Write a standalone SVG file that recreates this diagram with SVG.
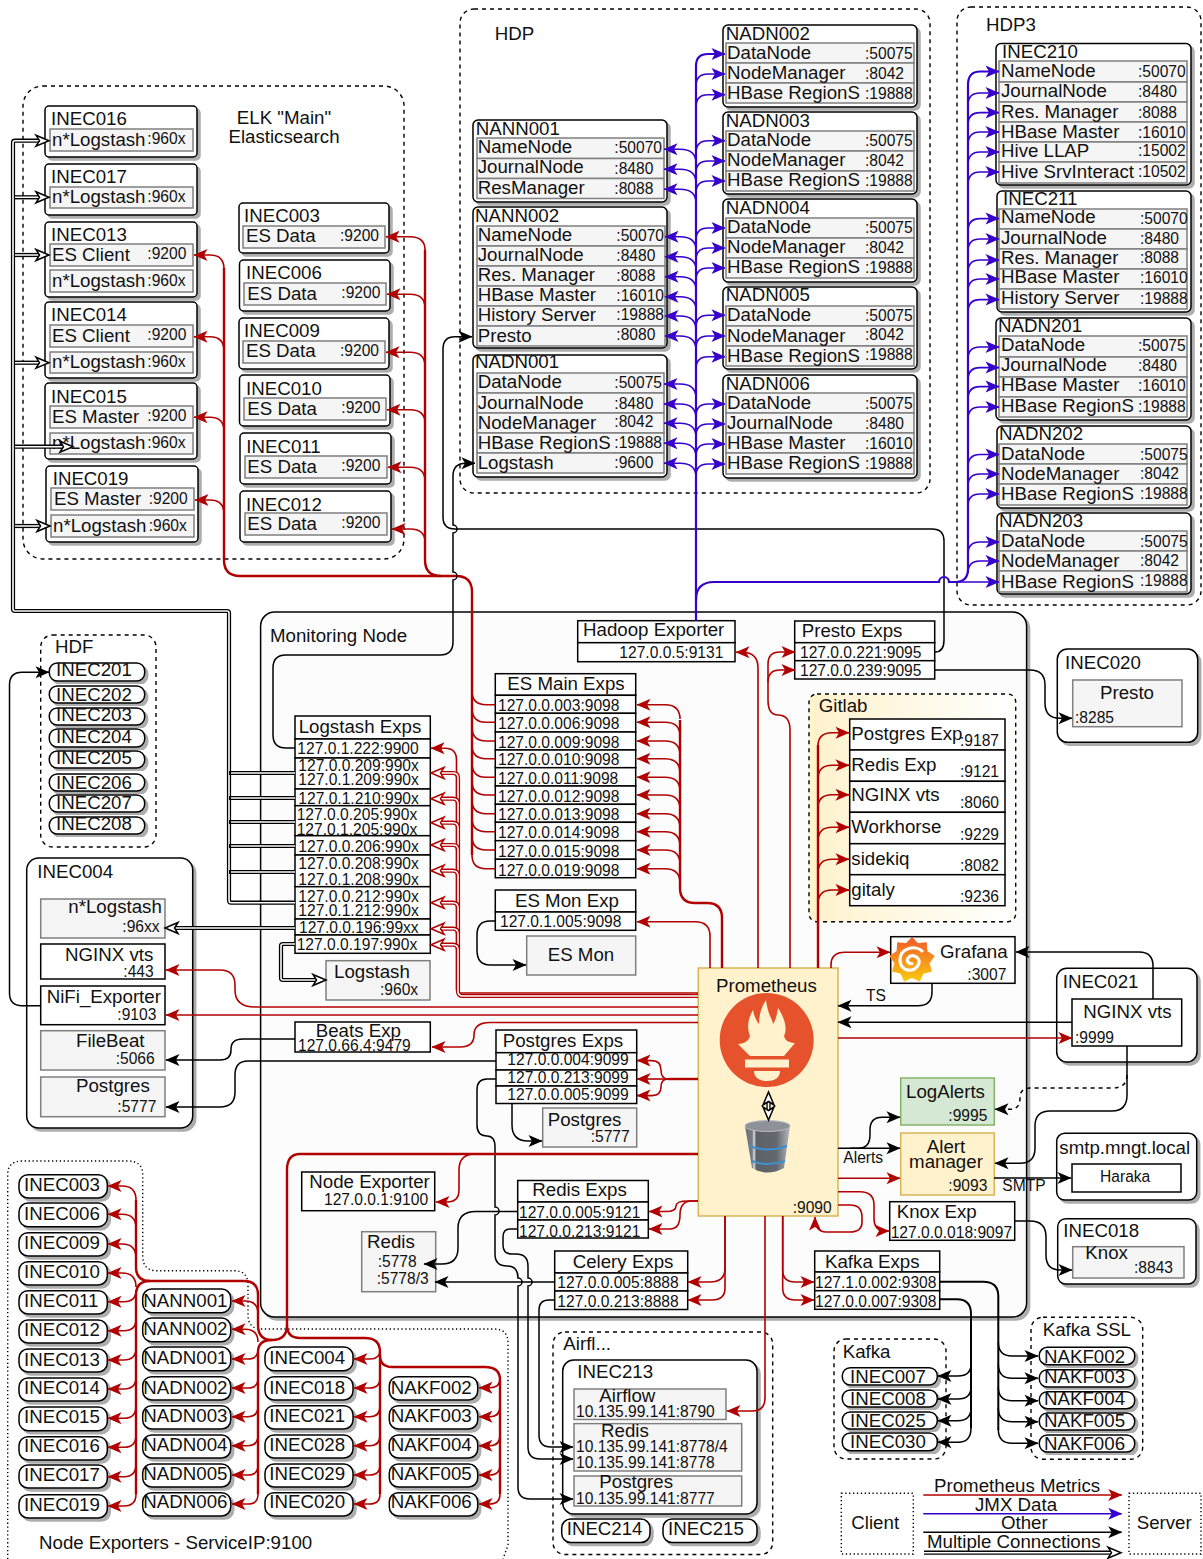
<svg xmlns="http://www.w3.org/2000/svg" width="1203" height="1559" viewBox="0 0 1203 1559">
<style>
text{font-family:"Liberation Sans",Arial,sans-serif;font-size:18.7px;fill:#111}
text.p{font-size:15.6px}
text.m{text-anchor:middle}
.n{fill:#fff;stroke:#000;stroke-width:1.5;filter:url(#s)}
.r{fill:#f5f5f5;stroke:#7f7f7f;stroke-width:1.5}
.w{fill:#fff;stroke:#000;stroke-width:1.5}
.da{fill:none;stroke:#000;stroke-width:1.4;stroke-dasharray:4 4}
.do{fill:none;stroke:#000;stroke-width:1.4;stroke-dasharray:1.3 2.6}
.red,.rx,.rt,.blu,.bt,.blk,.kt,.d1,.d2,.d3,.d4{fill:none}
.red{stroke:#b20000;stroke-width:1.6;marker-end:url(#ar)}
.rx{stroke:#b20000;stroke-width:1.6}
.rt{stroke:#b20000;stroke-width:2.4}
.blu{stroke:#3700cc;stroke-width:1.6;marker-end:url(#ab)}
.bt{stroke:#3700cc;stroke-width:2.2;marker-end:url(#ab)}
.blk{stroke:#000;stroke-width:1.5;marker-end:url(#ak)}
.kt{stroke:#000;stroke-width:2}
.d1{stroke:#000;stroke-width:4.2}
.d2{stroke:#fff;stroke-width:1.6;marker-end:url(#hk)}
.d3{stroke:#b20000;stroke-width:4.2}
.d4{stroke:#fff;stroke-width:1.6;marker-end:url(#hr)}
</style>
<defs>
<filter id="s" x="-10%" y="-10%" width="125%" height="125%"><feDropShadow dx="3" dy="3" stdDeviation="0.7" flood-color="#000" flood-opacity="0.32"/></filter>
<linearGradient id="gl" x1="0" x2="1" y1="0" y2="0"><stop offset="0" stop-color="#fff2cc"/><stop offset="1" stop-color="#fff"/></linearGradient>
<linearGradient id="gg" x1="0" x2="0" y1="0" y2="1"><stop offset="0" stop-color="#f15a29"/><stop offset="1" stop-color="#fbc70f"/></linearGradient>
<linearGradient id="gd" x1="0" x2="1" y1="0" y2="0"><stop offset="0" stop-color="#6c7178"/><stop offset=".16" stop-color="#777c83"/><stop offset=".2" stop-color="#d8dade"/><stop offset=".25" stop-color="#5c6168"/><stop offset=".7" stop-color="#63686f"/><stop offset="1" stop-color="#b5b8bd"/></linearGradient>
<marker id="ar" markerUnits="userSpaceOnUse" markerWidth="14" markerHeight="12" refX="13.5" refY="6" orient="auto" overflow="visible"><path d="M0,0L14,6L0,12L3.5,6Z" fill="#b20000"/></marker>
<marker id="ab" markerUnits="userSpaceOnUse" markerWidth="14" markerHeight="12" refX="13.5" refY="6" orient="auto" overflow="visible"><path d="M0,0L14,6L0,12L3.5,6Z" fill="#3700cc"/></marker>
<marker id="ak" markerUnits="userSpaceOnUse" markerWidth="14" markerHeight="12" refX="13.5" refY="6" orient="auto" overflow="visible"><path d="M0,0L14,6L0,12L3.5,6Z" fill="#000"/></marker>
<marker id="hk" markerUnits="userSpaceOnUse" markerWidth="15" markerHeight="12" refX="13" refY="5.5" orient="auto" overflow="visible"><path d="M0,0L13,5.5L0,11L3.5,5.5Z" fill="#fff" stroke="#000" stroke-width="1.5"/></marker>
<marker id="hr" markerUnits="userSpaceOnUse" markerWidth="15" markerHeight="12" refX="13" refY="5.5" orient="auto" overflow="visible"><path d="M0,0L13,5.5L0,11L3.5,5.5Z" fill="#fff" stroke="#b20000" stroke-width="1.5"/></marker>
</defs>
<g id="groups">
<rect class="da" x="23" y="86" width="381" height="473" rx="20"/>
<text class="m" x="284" y="124">ELK "Main"</text><text class="m" x="284" y="143.3">Elasticsearch</text>
<rect class="da" x="460" y="9" width="470" height="484" rx="14"/>
<text x="494.7" y="40">HDP</text>
<rect class="da" x="957" y="7" width="244" height="598" rx="14"/>
<text x="986" y="31">HDP3</text>
<rect class="n" x="260.6" y="612" width="766" height="705" rx="14" style="fill:#fcfcfc"/>
<text x="270" y="641.7">Monitoring Node</text>
<rect class="da" x="40.7" y="635" width="115.3" height="212" rx="12"/>
<text x="55" y="652.7">HDF</text>
<path class="do" d="M7.7,1559V1175Q7.7,1161 22,1161H128Q142.7,1161 142.7,1175V1256Q142.7,1270.7 157,1270.7H234Q248,1270.7 248,1285V1315Q248,1329 262,1329H494Q508,1329 508,1343V1545L503,1559"/>
<text x="39" y="1549">Node Exporters - ServiceIP:9100</text>
<rect class="da" x="553" y="1332" width="219.7" height="222.5" rx="12"/>
<text x="563.3" y="1350">Airfl...</text>
<rect class="da" x="834" y="1339" width="112" height="120" rx="12"/>
<text x="842.7" y="1357.7">Kafka</text>
<rect class="da" x="1031" y="1317.3" width="111.7" height="142" rx="12"/>
<text x="1042.7" y="1335.7">Kafka SSL</text>
<rect class="da" x="809" y="694" width="206.7" height="227.7" rx="8" style="fill:url(#gl)"/>
<text x="818.7" y="711.7">Gitlab</text>
</g>
<g id="elk-nodes">
<g id="INEC016"><rect class="n" x="45" y="106" width="152" height="51" rx="4"/><text x="51" y="125">INEC016</text><rect class="r" x="50" y="129" width="143" height="22"/><text x="52" y="146">n*Logstash</text><text class="p" x="147.3" y="144.3">:960x</text></g>
<g id="INEC017"><rect class="n" x="45" y="164" width="152" height="51" rx="4"/><text x="51" y="183">INEC017</text><rect class="r" x="50" y="187" width="143" height="21"/><text x="52" y="203">n*Logstash</text><text class="p" x="147.3" y="201.7">:960x</text></g>
<g id="INEC013"><rect class="n" x="45" y="222" width="152" height="75" rx="4"/><text x="51" y="241.3">INEC013</text><rect class="r" x="50" y="244" width="143" height="22"/><text x="52" y="261">ES Client</text><text class="p" x="147.3" y="259.3">:9200</text><rect class="r" x="50" y="270" width="143" height="22"/><text x="52" y="287.3">n*Logstash</text><text class="p" x="147.3" y="286">:960x</text></g>
<g id="INEC014"><rect class="n" x="45" y="302" width="152" height="76" rx="4"/><text x="51" y="321.3">INEC014</text><rect class="r" x="50" y="325" width="143" height="22"/><text x="52" y="342.3">ES Client</text><text class="p" x="147.3" y="340.3">:9200</text><rect class="r" x="50" y="352" width="143" height="21"/><text x="52" y="368.3">n*Logstash</text><text class="p" x="147.3" y="367.3">:960x</text></g>
<g id="INEC015"><rect class="n" x="45" y="383" width="152" height="76" rx="4"/><text x="51" y="402.7">INEC015</text><rect class="r" x="50" y="406" width="143" height="22"/><text x="52" y="423.3">ES Master</text><text class="p" x="147.3" y="421.3">:9200</text><rect class="r" x="50" y="433" width="143" height="21"/><text x="52" y="449.3">n*Logstash</text><text class="p" x="147.3" y="448.3">:960x</text></g>
<g id="INEC019"><rect class="n" x="46" y="466" width="152" height="76" rx="4"/><text x="52.7" y="485">INEC019</text><rect class="r" x="51" y="488" width="143" height="22"/><text x="54" y="505.3">ES Master</text><text class="p" x="148.7" y="504.3">:9200</text><rect class="r" x="51" y="515" width="143" height="22"/><text x="53" y="532">n*Logstash</text><text class="p" x="148.7" y="530.7">:960x</text></g>
<g id="INEC003"><rect class="n" x="239" y="203" width="150" height="50" rx="4"/><text x="244" y="222.3">INEC003</text><rect class="r" x="243" y="226" width="142" height="22"/><text x="246" y="242.3">ES Data</text><text class="p" x="340" y="241.3">:9200</text></g>
<g id="INEC006"><rect class="n" x="239.5" y="260" width="150.5" height="51" rx="4"/><text x="246" y="279.3">INEC006</text><rect class="r" x="244" y="283" width="142" height="22"/><text x="247.3" y="300.3">ES Data</text><text class="p" x="341.3" y="298.3">:9200</text></g>
<g id="INEC009"><rect class="n" x="239" y="318" width="150" height="51" rx="4"/><text x="244" y="337.3">INEC009</text><rect class="r" x="243" y="341" width="142" height="22"/><text x="246" y="357.3">ES Data</text><text class="p" x="340" y="356">:9200</text></g>
<g id="INEC010"><rect class="n" x="239.5" y="375" width="150.5" height="51" rx="4"/><text x="246" y="395.3">INEC010</text><rect class="r" x="244" y="398" width="142" height="22"/><text x="247.3" y="415.3">ES Data</text><text class="p" x="341.3" y="413.3">:9200</text></g>
<g id="INEC011"><rect class="n" x="240" y="433" width="151" height="51" rx="4"/><text x="246.3" y="452.7">INEC011</text><rect class="r" x="245" y="456" width="142" height="22"/><text x="247.3" y="472.7">ES Data</text><text class="p" x="341.3" y="471">:9200</text></g>
<g id="INEC012"><rect class="n" x="240" y="491" width="151" height="51" rx="4"/><text x="246" y="510.7">INEC012</text><rect class="r" x="245" y="513" width="142" height="22"/><text x="247.3" y="530">ES Data</text><text class="p" x="341.3" y="528.3">:9200</text></g>
</g>
<g id="hdp-nodes">
<g id="NANN001"><rect class="n" x="473" y="120" width="194" height="82" rx="5"/><text x="475.7" y="135">NANN001</text><rect class="r" x="477" y="138" width="187" height="20.5"/><rect class="r" x="477" y="158.5" width="187" height="20"/><rect class="r" x="477" y="178.5" width="187" height="20"/><text x="477.7" y="152.7">NameNode</text><text class="p" x="614.3" y="153.3">:50070</text><text x="477.7" y="173.3">JournalNode</text><text class="p" x="614.3" y="174">:8480</text><text x="477.7" y="194">ResManager</text><text class="p" x="614.3" y="194">:8088</text></g>
<g id="NANN002"><rect class="n" x="473" y="207" width="194" height="141" rx="5"/><text x="475" y="221.7">NANN002</text><rect class="r" x="477" y="226" width="188" height="20"/><rect class="r" x="477" y="246" width="188" height="20"/><rect class="r" x="477" y="266" width="188" height="20"/><rect class="r" x="477" y="286" width="188" height="20"/><rect class="r" x="477" y="306" width="188" height="20"/><rect class="r" x="477" y="326" width="188" height="20"/><text x="477.7" y="241.3">NameNode</text><text class="p" x="616.3" y="241">:50070</text><text x="477.7" y="261">JournalNode</text><text class="p" x="616.3" y="261">:8480</text><text x="477.7" y="281">Res. Manager</text><text class="p" x="616.3" y="281">:8088</text><text x="477.7" y="301">HBase Master</text><text class="p" x="616.3" y="301">:16010</text><text x="477.7" y="321">History Server</text><text class="p" x="616.3" y="320">:19888</text><text x="477.7" y="341.7">Presto</text><text class="p" x="616.3" y="340">:8080</text></g>
<g id="NADN001"><rect class="n" x="473" y="355" width="194" height="122" rx="5"/><text x="475" y="367.7">NADN001</text><rect class="r" x="477" y="373" width="187" height="20"/><rect class="r" x="477" y="393" width="187" height="20"/><rect class="r" x="477" y="413" width="187" height="20"/><rect class="r" x="477" y="433" width="187" height="20"/><rect class="r" x="477" y="453" width="187" height="20"/><text x="477.7" y="387.7">DataNode</text><text class="p" x="614.3" y="387.7">:50075</text><text x="477.7" y="408.7">JournalNode</text><text class="p" x="614.3" y="408.7">:8480</text><text x="477.7" y="429.3">NodeManager</text><text class="p" x="614.3" y="427">:8042</text><text x="477.7" y="449">HBase RegionS</text><text class="p" x="614.3" y="448.3">:19888</text><text x="477.7" y="469">Logstash</text><text class="p" x="614.3" y="467.7">:9600</text></g>
<g id="NADN002"><rect class="n" x="723" y="25" width="194" height="82" rx="5"/><text x="725.7" y="40">NADN002</text><rect class="r" x="726" y="43" width="188" height="20"/><rect class="r" x="726" y="63" width="188" height="20"/><rect class="r" x="726" y="83" width="188" height="20"/><text x="727" y="59.3">DataNode</text><text class="p" x="865" y="59">:50075</text><text x="727" y="79.3">NodeManager</text><text class="p" x="865" y="79">:8042</text><text x="727" y="99">HBase RegionS</text><text class="p" x="865" y="98.7">:19888</text></g>
<g id="NADN003"><rect class="n" x="723" y="112" width="194" height="82" rx="5"/><text x="725.7" y="127">NADN003</text><rect class="r" x="726" y="131" width="188" height="20"/><rect class="r" x="726" y="151" width="188" height="20"/><rect class="r" x="726" y="171" width="188" height="20"/><text x="727" y="146">DataNode</text><text class="p" x="865" y="146">:50075</text><text x="727" y="166">NodeManager</text><text class="p" x="865" y="166">:8042</text><text x="727" y="186">HBase RegionS</text><text class="p" x="865" y="186">:19888</text></g>
<g id="NADN004"><rect class="n" x="723" y="199" width="194" height="83" rx="5"/><text x="725.7" y="214">NADN004</text><rect class="r" x="726" y="218" width="188" height="20"/><rect class="r" x="726" y="238" width="188" height="20"/><rect class="r" x="726" y="258" width="188" height="20"/><text x="727" y="233">DataNode</text><text class="p" x="865" y="233">:50075</text><text x="727" y="253">NodeManager</text><text class="p" x="865" y="253">:8042</text><text x="727" y="273">HBase RegionS</text><text class="p" x="865" y="273">:19888</text></g>
<g id="NADN005"><rect class="n" x="723" y="287" width="194" height="82" rx="5"/><text x="725.7" y="301">NADN005</text><rect class="r" x="726" y="306" width="188" height="20"/><rect class="r" x="726" y="326" width="188" height="20"/><rect class="r" x="726" y="346" width="188" height="20"/><text x="727" y="321">DataNode</text><text class="p" x="865" y="321">:50075</text><text x="727" y="341.7">NodeManager</text><text class="p" x="865" y="340">:8042</text><text x="727" y="361.7">HBase RegionS</text><text class="p" x="865" y="360">:19888</text></g>
<g id="NADN006"><rect class="n" x="723" y="375" width="194" height="103" rx="5"/><text x="725.7" y="390">NADN006</text><rect class="r" x="726" y="393" width="188" height="20"/><rect class="r" x="726" y="413" width="188" height="20"/><rect class="r" x="726" y="433" width="188" height="20"/><rect class="r" x="726" y="453" width="188" height="21"/><text x="727" y="409">DataNode</text><text class="p" x="865" y="409">:50075</text><text x="727" y="429">JournalNode</text><text class="p" x="865" y="429">:8480</text><text x="727" y="449">HBase Master</text><text class="p" x="865" y="449">:16010</text><text x="727" y="469">HBase RegionS</text><text class="p" x="865" y="469">:19888</text></g>
</g>
<g id="hdp3-nodes">
<g id="INEC210"><rect class="n" x="996" y="43.5" width="195" height="141.5" rx="5"/><text x="1002" y="58">INEC210</text><rect class="r" x="999" y="61" width="188" height="21"/><rect class="r" x="999" y="82" width="188" height="20"/><rect class="r" x="999" y="102" width="188" height="20"/><rect class="r" x="999" y="122" width="188" height="20"/><rect class="r" x="999" y="142" width="188" height="20"/><rect class="r" x="999" y="162" width="188" height="21"/><text x="1001" y="77">NameNode</text><text class="p" x="1138" y="77">:50070</text><text x="1001" y="97">JournalNode</text><text class="p" x="1138" y="97">:8480</text><text x="1001" y="118">Res. Manager</text><text class="p" x="1138" y="118">:8088</text><text x="1001" y="137.5">HBase Master</text><text class="p" x="1138" y="137.5">:16010</text><text x="1001" y="157">Hive LLAP</text><text class="p" x="1138" y="156">:15002</text><text x="1001" y="178">Hive SrvInteract</text><text class="p" x="1138" y="177">:10502</text></g>
<g id="INEC211"><rect class="n" x="997" y="191" width="194" height="121" rx="5"/><text x="1003" y="204.7">INEC211</text><rect class="r" x="999" y="209" width="188" height="20"/><rect class="r" x="999" y="229" width="188" height="20"/><rect class="r" x="999" y="249" width="188" height="20"/><rect class="r" x="999" y="269" width="188" height="20"/><rect class="r" x="999" y="289" width="188" height="20"/><text x="1001" y="223">NameNode</text><text class="p" x="1140" y="224">:50070</text><text x="1001" y="244">JournalNode</text><text class="p" x="1140" y="244">:8480</text><text x="1001" y="264">Res. Manager</text><text class="p" x="1140" y="263">:8088</text><text x="1001" y="283">HBase Master</text><text class="p" x="1140" y="283">:16010</text><text x="1001" y="304">History Server</text><text class="p" x="1140" y="304">:19888</text></g>
<g id="NADN201"><rect class="n" x="996" y="318" width="195" height="102" rx="5"/><text x="998" y="332">NADN201</text><rect class="r" x="999" y="336" width="188" height="21"/><rect class="r" x="999" y="357" width="188" height="20"/><rect class="r" x="999" y="377" width="188" height="20"/><rect class="r" x="999" y="397" width="188" height="20"/><text x="1001" y="351">DataNode</text><text class="p" x="1138" y="351">:50075</text><text x="1001" y="371">JournalNode</text><text class="p" x="1138" y="371">:8480</text><text x="1001" y="391">HBase Master</text><text class="p" x="1138" y="391">:16010</text><text x="1001" y="412">HBase RegionS</text><text class="p" x="1138" y="412">:19888</text></g>
<g id="NADN202"><rect class="n" x="997" y="426" width="194" height="82" rx="5"/><text x="999" y="440">NADN202</text><rect class="r" x="999" y="444" width="188" height="20"/><rect class="r" x="999" y="464" width="188" height="20"/><rect class="r" x="999" y="484" width="188" height="21"/><text x="1001" y="460">DataNode</text><text class="p" x="1140" y="460">:50075</text><text x="1001" y="480">NodeManager</text><text class="p" x="1140" y="479">:8042</text><text x="1001" y="500">HBase RegionS</text><text class="p" x="1140" y="499">:19888</text></g>
<g id="NADN203"><rect class="n" x="997" y="513" width="194" height="81" rx="5"/><text x="999" y="527">NADN203</text><rect class="r" x="999" y="531" width="188" height="20"/><rect class="r" x="999" y="551" width="188" height="20"/><rect class="r" x="999" y="571" width="188" height="21"/><text x="1001" y="547">DataNode</text><text class="p" x="1140" y="547">:50075</text><text x="1001" y="567">NodeManager</text><text class="p" x="1140" y="566">:8042</text><text x="1001" y="588">HBase RegionS</text><text class="p" x="1140" y="586">:19888</text></g>
</g>
<g id="hdf-nodes">
<g id="INEC201"><rect class="n" x="49.3" y="663" width="95.4" height="18" rx="8"/><text x="56" y="675.7">INEC201</text></g>
<g id="INEC202"><rect class="n" x="49.3" y="686" width="95.4" height="17" rx="8"/><text x="56" y="700.7">INEC202</text></g>
<g id="INEC203"><rect class="n" x="49.3" y="708" width="95.4" height="17" rx="8"/><text x="56" y="720.7">INEC203</text></g>
<g id="INEC204"><rect class="n" x="49.3" y="729" width="95.4" height="18" rx="8"/><text x="56" y="742.7">INEC204</text></g>
<g id="INEC205"><rect class="n" x="49.3" y="751" width="95.4" height="17" rx="8"/><text x="56" y="764.3">INEC205</text></g>
<g id="INEC206"><rect class="n" x="49.3" y="774" width="95.4" height="17" rx="8"/><text x="56" y="789.3">INEC206</text></g>
<g id="INEC207"><rect class="n" x="49.3" y="795" width="95.4" height="17" rx="8"/><text x="56" y="809">INEC207</text></g>
<g id="INEC208"><rect class="n" x="49.3" y="817" width="95.4" height="17" rx="8"/><text x="56" y="830">INEC208</text></g>
</g>
<g id="INEC004-server"><rect class="n" x="26.7" y="858" width="166" height="270" rx="12"/><text x="37.3" y="878.3">INEC004</text>
<rect class="r" x="40.7" y="899" width="124.3" height="39"/><text x="68.3" y="913.3">n*Logstash</text><text class="p" x="122.3" y="931.7">:96xx</text>
<rect class="w" x="40.7" y="944" width="124.3" height="35"/><text x="65" y="960.7">NGINX vts</text><text class="p" x="123.3" y="976.7">:443</text>
<rect class="w" x="40.7" y="986" width="124.3" height="38.7"/><text x="46.7" y="1002.7">NiFi_Exporter</text><text class="p" x="117.3" y="1020">:9103</text>
<rect class="r" x="40.7" y="1030.7" width="124.3" height="39.3"/><text x="76" y="1046.7">FileBeat</text><text class="p" x="115.7" y="1064.3">:5066</text>
<rect class="r" x="40.7" y="1077" width="124.3" height="39.7"/><text x="76" y="1091.7">Postgres</text><text class="p" x="117.3" y="1111.7">:5777</text></g>
<g id="exporters">
<g id="HadoopExporter"><rect class="w" x="577.7" y="620.7" width="157.3" height="22"/><rect class="w" x="577.7" y="642.7" width="157.3" height="19"/><text x="583" y="636">Hadoop Exporter</text><text class="p" x="619.3" y="658.3">127.0.0.5:9131</text></g>
<g id="PrestoExps"><rect class="w" x="794.7" y="621" width="140" height="21.7"/><rect class="w" x="794.7" y="642.7" width="140" height="18"/><rect class="w" x="794.7" y="660.7" width="140" height="18.3"/><text x="801.7" y="636.7">Presto Exps</text><text class="p" x="800" y="658.3">127.0.0.221:9095</text><text class="p" x="800" y="676">127.0.0.239:9095</text></g>
<g id="ESMainExps"><rect class="w" x="495.3" y="673.7" width="140.4" height="21.6"/><rect class="w" x="495.3" y="695.3" width="140.4" height="18"/><rect class="w" x="495.3" y="713.3" width="140.4" height="18.7"/><rect class="w" x="495.3" y="732" width="140.4" height="18"/><rect class="w" x="495.3" y="750" width="140.4" height="17.7"/><rect class="w" x="495.3" y="767.7" width="140.4" height="18.3"/><rect class="w" x="495.3" y="786" width="140.4" height="18.3"/><rect class="w" x="495.3" y="804.3" width="140.4" height="18"/><rect class="w" x="495.3" y="822.3" width="140.4" height="18.4"/><rect class="w" x="495.3" y="840.7" width="140.4" height="18.6"/><rect class="w" x="495.3" y="859.3" width="140.4" height="18.4"/>
<text x="507.3" y="690">ES Main Exps</text><text class="p" x="498" y="711">127.0.0.003:9098</text><text class="p" x="498" y="729">127.0.0.006:9098</text><text class="p" x="498" y="748">127.0.0.009:9098</text><text class="p" x="498" y="765">127.0.0.010:9098</text><text class="p" x="498" y="784">127.0.0.011:9098</text><text class="p" x="498" y="801.7">127.0.0.012:9098</text><text class="p" x="498" y="820">127.0.0.013:9098</text><text class="p" x="498" y="838">127.0.0.014:9098</text><text class="p" x="498" y="857">127.0.0.015:9098</text><text class="p" x="498" y="876">127.0.0.019:9098</text></g>
<g id="ESMonExp"><rect class="w" x="495.3" y="890" width="140.4" height="22"/><rect class="w" x="495.3" y="912" width="140.4" height="18.3"/><text x="515" y="907.3">ES Mon Exp</text><text class="p" x="500" y="927">127.0.1.005:9098</text></g>
<g id="ESMon"><rect class="r" x="526.7" y="936" width="109" height="39"/><text x="547.7" y="960.7">ES Mon</text></g>
<g id="LogstashExps"><rect class="w" x="295" y="716" width="135.3" height="23"/><rect class="w" x="295" y="739" width="135.3" height="19"/><rect class="w" x="295" y="758" width="135.3" height="31"/><rect class="w" x="295" y="789" width="135.3" height="16.7"/><rect class="w" x="295" y="805.7" width="135.3" height="30"/><rect class="w" x="295" y="835.7" width="135.3" height="19.3"/><rect class="w" x="295" y="855" width="135.3" height="31.7"/><rect class="w" x="295" y="886.7" width="135.3" height="32.3"/><rect class="w" x="295" y="919" width="135.3" height="16"/><rect class="w" x="295" y="935" width="135.3" height="18.3"/>
<text x="298.7" y="732.7">Logstash Exps</text><text class="p" x="297.3" y="754">127.0.1.222:9900</text><text class="p" x="298.3" y="771.3">127.0.0.209:990x</text><text class="p" x="298.3" y="785.3">127.0.1.209:990x</text><text class="p" x="298.3" y="804.3">127.0.1.210:990x</text><text class="p" x="296.7" y="820">127.0.0.205:990x</text><text class="p" x="296.7" y="835.3">127.0.1.205:990x</text><text class="p" x="298.3" y="851.7">127.0.0.206:990x</text><text class="p" x="298.3" y="869.3">127.0.0.208:990x</text><text class="p" x="298.3" y="885.3">127.0.1.208:990x</text><text class="p" x="298.3" y="902">127.0.0.212:990x</text><text class="p" x="298.3" y="916">127.0.1.212:990x</text><text class="p" x="299" y="933.3">127.0.0.196:99xx</text><text class="p" x="296.7" y="950">127.0.0.197:990x</text></g>
<g id="LogstashBox"><rect class="r" x="326" y="960.7" width="104" height="39.3"/><text x="334" y="978.3">Logstash</text><text class="p" x="380" y="995">:960x</text></g>
<g id="BeatsExp"><rect class="w" x="295" y="1022" width="135.3" height="30"/><text x="315.7" y="1036.5">Beats Exp</text><text class="p" x="298" y="1051">127.0.66.4:9479</text></g>
<g id="PostgresExps"><rect class="w" x="496" y="1030" width="140.7" height="22.7"/><rect class="w" x="496" y="1052.7" width="140.7" height="17.3"/><rect class="w" x="496" y="1070" width="140.7" height="16"/><rect class="w" x="496" y="1086" width="140.7" height="17.5"/><text x="502.7" y="1046.8">Postgres Exps</text><text class="p" x="507.3" y="1065.4">127.0.0.004:9099</text><text class="p" x="507.3" y="1083">127.0.0.213:9099</text><text class="p" x="507.3" y="1100">127.0.0.005:9099</text></g>
<g id="PostgresBox"><rect class="r" x="542.7" y="1108" width="94" height="39"/><text x="547.7" y="1126">Postgres</text><text class="p" x="590.7" y="1142">:5777</text></g>
<g id="NodeExporter"><rect class="w" x="301.7" y="1172" width="133" height="38.7"/><text x="309.3" y="1187.7">Node Exporter</text><text class="p" x="324" y="1205">127.0.0.1:9100</text></g>
<g id="RedisBox"><rect class="r" x="361.7" y="1231.7" width="74" height="60"/><text x="367" y="1247.7">Redis</text><text class="p" x="377.7" y="1267.3">:5778</text><text class="p" x="376.7" y="1284.3">:5778/3</text></g>
<g id="RedisExps"><rect class="w" x="517.7" y="1180.5" width="130.6" height="21.5"/><rect class="w" x="517.7" y="1202" width="130.6" height="18"/><rect class="w" x="517.7" y="1220" width="130.6" height="18"/><text x="532.3" y="1196">Redis Exps</text><text class="p" x="519" y="1217.7">127.0.0.005:9121</text><text class="p" x="519" y="1236.5">127.0.0.213:9121</text></g>
<g id="CeleryExps"><rect class="w" x="554.7" y="1251" width="133" height="22"/><rect class="w" x="554.7" y="1273" width="133" height="18"/><rect class="w" x="554.7" y="1291" width="133" height="18.5"/><text x="572.7" y="1268">Celery Exps</text><text class="p" x="557.3" y="1288">127.0.0.005:8888</text><text class="p" x="557.3" y="1307">127.0.0.213:8888</text></g>
<g id="KafkaExps"><rect class="w" x="814.7" y="1251" width="125" height="21"/><rect class="w" x="814.7" y="1272" width="125" height="18.7"/><rect class="w" x="814.7" y="1290.7" width="125" height="18.6"/><text x="825" y="1268.3">Kafka Exps</text><text class="p" x="815" y="1288.3">127.1.0.002:9308</text><text class="p" x="815" y="1306.7">127.0.0.007:9308</text></g>
<g id="KnoxExp"><rect class="w" x="889.7" y="1201.7" width="125" height="38.6"/><text x="896.7" y="1218.3">Knox Exp</text><text class="p" x="890.7" y="1238.3">127.0.0.018:9097</text></g>
<g id="GitlabTable"><rect class="w" x="849.7" y="719" width="155.3" height="31"/><rect class="w" x="849.7" y="750" width="155.3" height="31.3"/><rect class="w" x="849.7" y="781.3" width="155.3" height="31"/><rect class="w" x="849.7" y="812.3" width="155.3" height="31.4"/><rect class="w" x="849.7" y="843.7" width="155.3" height="31"/><rect class="w" x="849.7" y="874.7" width="155.3" height="31"/>
<text x="851.3" y="740">Postgres Exp</text><text class="p" x="960" y="745.7">:9187</text><text x="851.3" y="771">Redis Exp</text><text class="p" x="960" y="776.7">:9121</text><text x="851.3" y="800.7">NGINX vts</text><text class="p" x="960" y="808.3">:8060</text><text x="851.3" y="832.7">Workhorse</text><text class="p" x="960" y="840">:9229</text><text x="851.3" y="865">sidekiq</text><text class="p" x="960" y="870.7">:8082</text><text x="851.3" y="896">gitaly</text><text class="p" x="960" y="901.7">:9236</text></g>
</g>
<g id="Prometheus"><rect x="698.3" y="968" width="139.7" height="248" fill="#fff2cc" stroke="#d6b656" stroke-width="1.5"/><text x="716" y="991.7">Prometheus</text><text class="p" x="792.7" y="1213.3">:9090</text>
<circle cx="766.7" cy="1040" r="47" fill="#e6522c"/>
<path d="M766,1000C768,1015 772,1018 773,1024C776,1020 777,1014 778,1008C786,1020 787,1030 784,1036C785,1041 790,1043 795,1043L784,1056H750L738,1044C745,1044 749,1040 750,1036C746,1026 749,1017 753,1010C754,1016 757,1022 759,1024C759,1014 762,1006 766,1000Z" fill="#fff2cc"/>
<rect x="745" y="1059.5" width="44" height="8" fill="#fff2cc"/>
<path d="M754,1071H780C780,1078 774,1081 767,1081C760,1081 754,1078 754,1071Z" fill="#fff2cc"/>
<path d="M745,1126L752,1168Q767,1177 784,1168L790,1126Z" fill="url(#gd)"/>
<path d="M749,1146Q767,1153 787,1146M752,1161Q767,1167 785,1161" fill="none" stroke="#3f8fcc" stroke-width="2.2"/>
<ellipse cx="767.5" cy="1126" rx="22.5" ry="5.5" fill="#8d9299" stroke="#b9bcc0"/>
</g>
<g id="LogAlerts"><rect x="900.7" y="1078" width="93.6" height="47" fill="#d5e8d4" stroke="#82b366" stroke-width="1.5"/><text x="906" y="1098.3">LogAlerts</text><text class="p" x="948.3" y="1121">:9995</text></g>
<g id="Alertmanager"><rect x="900.7" y="1133" width="93.6" height="62" fill="#fff2cc" stroke="#d6b656" stroke-width="1.5"/><text class="m" x="946" y="1153.3">Alert</text><text class="m" x="946" y="1168.3">manager</text><text class="p" x="948.3" y="1191">:9093</text></g>
<g id="Grafana"><rect class="w" x="890.7" y="936.7" width="124.3" height="46.6"/>
<polygon points="912,938 917.8,944 926.1,943.1 926.7,951.5 933.7,956.2 928.7,963 931.1,971 922.9,973 919.5,980.7 912,977 904.5,980.7 901.1,973 892.9,971 895.3,963 890.3,956.2 897.3,951.5 897.9,943.1 906.2,944" fill="url(#gg)" stroke="url(#gg)" stroke-width="1.5" stroke-linejoin="round"/>
<path d="M923,952C916,944 900,948 900,960C900,972 916,974 919,963C920,957 912,953 908,958C906,962 910,965 913,963" fill="none" stroke="#fff" stroke-width="3.2"/>
<text x="940" y="957.7">Grafana</text><text class="p" x="967.3" y="980">:3007</text></g>
<g id="INEC020-server"><rect class="n" x="1057.3" y="649" width="140.4" height="93.3" rx="10"/><text x="1065" y="669.3">INEC020</text><rect class="r" x="1072.7" y="680" width="109.3" height="46.7"/><text x="1100" y="699.3">Presto</text><text class="p" x="1075" y="723.3">:8285</text></g>
<g id="INEC021-server"><rect class="n" x="1056.7" y="968.3" width="140.3" height="93.7" rx="10"/><text x="1062.7" y="988.3">INEC021</text><rect class="w" x="1072" y="999" width="109.7" height="47"/><text x="1083.3" y="1018.3">NGINX vts</text><text class="p" x="1075" y="1042.5">:9999</text></g>
<g id="smtp"><rect class="n" x="1056.7" y="1133.3" width="140" height="66.7" rx="8"/><text x="1059.3" y="1154">smtp.mngt.local</text><rect class="w" x="1072" y="1164" width="109" height="28"/><text class="p" x="1100" y="1181.7">Haraka</text></g>
<g id="INEC018-server"><rect class="n" x="1057.7" y="1218.7" width="138.3" height="65.3" rx="8"/><text x="1063.3" y="1236.7">INEC018</text><rect class="r" x="1072.7" y="1246.7" width="111.3" height="31.3"/><text x="1085.3" y="1259.3">Knox</text><text class="p" x="1134" y="1273.3">:8843</text></g>
<g id="node-exporters">
<g id="c1"><rect class="n" x="19" y="1174.7" width="88.3" height="23.3" rx="9"/><text x="24" y="1190.7">INEC003</text><rect class="n" x="19" y="1203" width="88.3" height="23.7" rx="9"/><text x="24" y="1219.7">INEC006</text><rect class="n" x="19" y="1232.7" width="88.3" height="23.3" rx="9"/><text x="24" y="1248.7">INEC009</text><rect class="n" x="19" y="1261.7" width="88.3" height="23.3" rx="9"/><text x="24" y="1278.3">INEC010</text><rect class="n" x="19" y="1290.7" width="88.3" height="23.3" rx="9"/><text x="24" y="1306.7">INEC011</text><rect class="n" x="19" y="1320" width="88.3" height="23" rx="9"/><text x="24" y="1335.7">INEC012</text><rect class="n" x="19" y="1349" width="88.3" height="23" rx="9"/><text x="24" y="1365.7">INEC013</text><rect class="n" x="19" y="1378" width="88.3" height="23" rx="9"/><text x="24" y="1394">INEC014</text><rect class="n" x="19" y="1407" width="88.3" height="23.7" rx="9"/><text x="24" y="1422.7">INEC015</text><rect class="n" x="19" y="1436.7" width="88.3" height="23.3" rx="9"/><text x="24" y="1452.3">INEC016</text><rect class="n" x="19" y="1465" width="88.3" height="23" rx="9"/><text x="24" y="1480.7">INEC017</text><rect class="n" x="19" y="1494.7" width="88.3" height="23.3" rx="9"/><text x="24" y="1510.7">INEC019</text></g>
<g id="c2"><rect class="n" x="142.7" y="1289" width="88" height="23.7" rx="9"/><text x="143.3" y="1306.7">NANN001</text><rect class="n" x="142.7" y="1318" width="88" height="23.7" rx="9"/><text x="143.3" y="1334.7">NANN002</text><rect class="n" x="142.7" y="1347" width="88" height="23.7" rx="9"/><text x="143.3" y="1363.7">NADN001</text><rect class="n" x="142.7" y="1376.7" width="88" height="23.3" rx="9"/><text x="143.3" y="1393.7">NADN002</text><rect class="n" x="142.7" y="1405.7" width="88" height="23.3" rx="9"/><text x="143.3" y="1421.7">NADN003</text><rect class="n" x="142.7" y="1435" width="88" height="23" rx="9"/><text x="143.3" y="1450.7">NADN004</text><rect class="n" x="142.7" y="1464" width="88" height="23" rx="9"/><text x="143.3" y="1480">NADN005</text><rect class="n" x="142.7" y="1492.7" width="88" height="23.3" rx="9"/><text x="143.3" y="1508.3">NADN006</text></g>
<g id="c3"><rect class="n" x="265" y="1347" width="88" height="23.7" rx="9"/><text x="269.3" y="1363.7">INEC004</text><rect class="n" x="265" y="1376.7" width="88" height="23.3" rx="9"/><text x="269.3" y="1393.7">INEC018</text><rect class="n" x="265" y="1405.7" width="88" height="23.3" rx="9"/><text x="269.3" y="1421.7">INEC021</text><rect class="n" x="265" y="1435" width="88" height="23" rx="9"/><text x="269.3" y="1450.7">INEC028</text><rect class="n" x="265" y="1464" width="88" height="23" rx="9"/><text x="269.3" y="1480">INEC029</text><rect class="n" x="265" y="1492.7" width="88" height="23.3" rx="9"/><text x="269.3" y="1508.3">INEC020</text></g>
<g id="c4"><rect class="n" x="389.3" y="1376.7" width="88.4" height="23.3" rx="9"/><text x="390.7" y="1393.7">NAKF002</text><rect class="n" x="389.3" y="1405.7" width="88.4" height="23.3" rx="9"/><text x="390.7" y="1421.7">NAKF003</text><rect class="n" x="389.3" y="1435" width="88.4" height="23" rx="9"/><text x="390.7" y="1450.7">NAKF004</text><rect class="n" x="389.3" y="1464" width="88.4" height="23" rx="9"/><text x="390.7" y="1480">NAKF005</text><rect class="n" x="389.3" y="1492.7" width="88.4" height="23.3" rx="9"/><text x="390.7" y="1508.3">NAKF006</text></g>
</g>
<g id="airflow">
<g id="INEC213"><rect class="n" x="562.7" y="1360" width="194.3" height="154" rx="11"/><text x="577.3" y="1378.2">INEC213</text>
<rect class="r" x="574" y="1389" width="152" height="30.5"/><text x="599.3" y="1402">Airflow</text><text class="p" x="576" y="1417">10.135.99.141:8790</text>
<rect class="r" x="574" y="1423.6" width="167.7" height="47.4"/><text x="601" y="1436.6">Redis</text><text class="p" x="576" y="1452.4">10.135.99.141:8778/4</text><text class="p" x="576" y="1467.6">10.135.99.141:8778</text>
<rect class="r" x="574" y="1476" width="167.7" height="30"/><text x="599.3" y="1488">Postgres</text><text class="p" x="576" y="1504">10.135.99.141:8777</text></g>
<g id="INEC214"><rect class="n" x="561.7" y="1519" width="88.3" height="23.5" rx="9"/><text x="566.7" y="1535">INEC214</text></g>
<g id="INEC215"><rect class="n" x="663" y="1519" width="94" height="23.5" rx="9"/><text x="668" y="1535">INEC215</text></g>
</g>
<g id="kafka">
<rect class="n" x="842.3" y="1367.7" width="95" height="17.3" rx="8"/><text x="850" y="1382.7">INEC007</text><rect class="n" x="842.3" y="1390" width="95" height="17" rx="8"/><text x="850" y="1405">INEC008</text><rect class="n" x="842.3" y="1412" width="95" height="17" rx="8"/><text x="850" y="1426.7">INEC025</text><rect class="n" x="842.3" y="1433" width="95" height="17.7" rx="8"/><text x="850" y="1448.3">INEC030</text>
</g>
<g id="kafka-ssl">
<rect class="n" x="1039.3" y="1347.3" width="95.4" height="17.4" rx="8"/><text x="1044" y="1362.7">NAKF002</text><rect class="n" x="1039.3" y="1369.7" width="95.4" height="17.3" rx="8"/><text x="1044" y="1383.3">NAKF003</text><rect class="n" x="1039.3" y="1391.7" width="95.4" height="17" rx="8"/><text x="1044" y="1405.3">NAKF004</text><rect class="n" x="1039.3" y="1413" width="95.4" height="17" rx="8"/><text x="1044" y="1426.7">NAKF005</text><rect class="n" x="1039.3" y="1435" width="95.4" height="17" rx="8"/><text x="1044" y="1450">NAKF006</text>
</g>
<g id="legend">
<rect class="do" x="841.3" y="1493.3" width="72" height="60.7"/><text x="851.3" y="1529">Client</text>
<rect class="do" x="1129" y="1493.3" width="72" height="60.7"/><text x="1136.7" y="1529">Server</text>
<text x="934" y="1492">Prometheus Metrics</text><text x="975" y="1510.7">JMX Data</text><text x="1001" y="1529">Other</text><text x="927" y="1547.7">Multiple Connections</text>
</g>
<g id="connectors">
<path class="rt" d="M472,855V592Q472,576 456,576H240Q224,576 224,560V268"/>
<path class="rt" d="M441,576Q425,576 425,560V250"/>
<path class="rx" d="M495,704.7H486Q472,704.7 472,691M495,722.3H486Q472,722.3 472,708M495,741H486Q472,741 472,727M495,758.7H486Q472,758.7 472,745M495,777.3H486Q472,777.3 472,763M495,795H486Q472,795 472,781M495,813.7H486Q472,813.7 472,800M495,831.7H486Q472,831.7 472,818M495,850H486Q472,850 472,836M495,868.7H486Q472,868.7 472,855"/>
<path class="red" d="M224,269Q224,255 210,255H194"/><path class="red" d="M224,351Q224,336.7 210,336.7H194"/><path class="red" d="M224,431Q224,417.3 210,417.3H194"/><path class="red" d="M224,514Q224,500 210,500H195"/>
<path class="red" d="M425,250Q425,236.7 410,236.7H386"/><path class="red" d="M425,308Q425,294.3 410,294.3H387"/><path class="red" d="M425,366Q425,352.3 410,352.3H386"/><path class="red" d="M425,423Q425,409.7 410,409.7H387"/><path class="red" d="M425,481Q425,467.3 410,467.3H388"/><path class="red" d="M425,542Q425,529 410,529H392"/>
<path class="rt" d="M722,968V918Q722,903 707,903H695Q680,903 680,888V720"/>
<path class="red" d="M680,719Q680,704.7 665,704.7H637"/><path class="red" d="M680,736Q680,722.3 665,722.3H637"/><path class="red" d="M680,755Q680,741 665,741H637"/><path class="red" d="M680,773Q680,758.7 665,758.7H637"/><path class="red" d="M680,791Q680,777.3 665,777.3H637"/><path class="red" d="M680,809Q680,795 665,795H637"/><path class="red" d="M680,828Q680,813.7 665,813.7H637"/><path class="red" d="M680,846Q680,831.7 665,831.7H637"/><path class="red" d="M680,864Q680,850 665,850H637"/><path class="red" d="M680,883Q680,868.7 665,868.7H637"/>
<path class="red" d="M710,968V936Q710,921.7 695,921.7H637"/>
<path class="blk" d="M495,921H490Q477,921 477,935V950Q477,965 490,965H526"/>
<path class="red" d="M698,993H460Q456.5,993 456.5,989V760Q456.5,748.3 445,748.3H431"/>
<path class="d3" d="M698,996H463Q458,996 458,991V778Q458,773 453,773H438"/><path class="d4" d="M698,996H463Q458,996 458,991V778Q458,773 453,773H431"/>
<path class="d3" d="M458,804Q458,798.7 453,798.7H438"/><path class="d4" d="M458,804Q458,798.7 453,798.7H431"/>
<path class="d3" d="M458,828Q458,822.7 453,822.7H438"/><path class="d4" d="M458,828Q458,822.7 453,822.7H431"/>
<path class="d3" d="M458,850Q458,845 453,845H438"/><path class="d4" d="M458,850Q458,845 453,845H431"/>
<path class="d3" d="M458,876Q458,870.7 453,870.7H438"/><path class="d4" d="M458,876Q458,870.7 453,870.7H431"/>
<path class="d3" d="M458,908Q458,902.7 453,902.7H438"/><path class="d4" d="M458,908Q458,902.7 453,902.7H431"/>
<path class="d3" d="M458,934Q458,928.7 453,928.7H438"/><path class="d4" d="M458,934Q458,928.7 453,928.7H431"/>
<path class="d3" d="M458,950Q458,944.7 453,944.7H438"/><path class="d4" d="M458,950Q458,944.7 453,944.7H431"/>
<path class="d1" d="M295,902.7H231Q229,902.7 229,900V613Q229,611 227,611H15Q13,611 13,609V142.5Q13,140.7 15,140.7H42"/><path class="d2" d="M295,902.7H231Q229,902.7 229,900V613Q229,611 227,611H15Q13,611 13,609V142.5Q13,140.7 15,140.7H49"/>
<path class="d1" d="M15,197.3H42"/><path class="d2" d="M15,197.3H49"/>
<path class="d1" d="M15,255H42"/><path class="d2" d="M15,255H49"/>
<path class="d1" d="M15,362.7H42"/><path class="d2" d="M15,362.7H49"/>
<path class="d1" d="M15,446.7H66"/><path class="d2" d="M15,446.7H73"/>
<path class="d1" d="M15,526H43"/><path class="d2" d="M15,526H50"/>
<path class="d1" d="M295,773H229"/><path class="d2" style="marker-end:none" d="M295,773H231"/>
<path class="d1" d="M295,798H229"/><path class="d2" style="marker-end:none" d="M295,798H231"/>
<path class="d1" d="M295,822H229"/><path class="d2" style="marker-end:none" d="M295,822H231"/>
<path class="d1" d="M295,846H229"/><path class="d2" style="marker-end:none" d="M295,846H231"/>
<path class="d1" d="M295,872H229"/><path class="d2" style="marker-end:none" d="M295,872H231"/>
<path class="d1" d="M295,928H172"/><path class="d2" d="M295,928H165"/>
<path class="d1" d="M295,944H283Q281,944 281,946V978Q281,980 283,980H319"/><path class="d2" d="M295,944H283Q281,944 281,946V978Q281,980 283,980H326"/>
<path class="blk" d="M295,748H286Q273,748 273,735V668Q273,655 286,655H440Q453,655 453,642V580A4,4 0 0 0 453,572V533A4,4 0 0 0 453,525V476Q453,463.3 466,463.3H475"/>
<path class="blk" d="M935,652Q944,652 944,640V541Q944,529 932,529H455Q443,529 443,517V349Q443,336.7 455,336.7H472"/>
<path class="bt" d="M696,621V66Q696,54 708,54H725"/>
<path class="blu" d="M696,163Q696,149.3 680,149.3H664"/><path class="blu" d="M696,183Q696,169.3 680,169.3H664"/><path class="blu" d="M696,203Q696,189.3 680,189.3H664"/>
<path class="blu" d="M696,250Q696,236.7 680,236.7H665"/><path class="blu" d="M696,270Q696,256.7 680,256.7H665"/><path class="blu" d="M696,290Q696,276.7 680,276.7H665"/><path class="blu" d="M696,310Q696,296.7 680,296.7H665"/><path class="blu" d="M696,330Q696,316 680,316H665"/><path class="blu" d="M696,350Q696,336 680,336H665"/>
<path class="blu" d="M696,398Q696,384 680,384H664"/><path class="blu" d="M696,418Q696,404 680,404H664"/><path class="blu" d="M696,437Q696,423.3 680,423.3H664"/><path class="blu" d="M696,457Q696,443.3 680,443.3H664"/><path class="blu" d="M696,477Q696,463.3 680,463.3H664"/>
<path class="blu" d="M696,86Q696,74 708,74H725"/><path class="blu" d="M696,107Q696,94.7 708,94.7H725"/><path class="blu" d="M696,153Q696,140.7 708,140.7H725"/><path class="blu" d="M696,173Q696,161 708,161H725"/><path class="blu" d="M696,193Q696,181 708,181H725"/><path class="blu" d="M696,240Q696,228 708,228H725"/><path class="blu" d="M696,260Q696,248 708,248H725"/><path class="blu" d="M696,280Q696,268 708,268H725"/><path class="blu" d="M696,327Q696,315.3 708,315.3H725"/><path class="blu" d="M696,348Q696,336 708,336H725"/><path class="blu" d="M696,369Q696,356.7 708,356.7H725"/><path class="blu" d="M696,416Q696,404 708,404H725"/><path class="blu" d="M696,436Q696,424 708,424H725"/><path class="blu" d="M696,456Q696,444 708,444H725"/><path class="blu" d="M696,476Q696,464 708,464H725"/>
<path class="bt" d="M696,600Q696,582 714,582H939A5,5 0 0 1 949,582H955Q968,582 968,569V85Q968,71.5 980,71.5H999"/>
<path class="blu" d="M955,582H999"/>
<path class="blu" d="M968,105Q968,93 980,93H999"/><path class="blu" d="M968,125Q968,112.6 980,112.6H999"/><path class="blu" d="M968,145Q968,132 980,132H999"/><path class="blu" d="M968,165Q968,152 980,152H999"/><path class="blu" d="M968,185Q968,172 980,172H999"/><path class="blu" d="M968,231Q968,218.6 980,218.6H999"/><path class="blu" d="M968,251Q968,239 980,239H999"/><path class="blu" d="M968,272Q968,260 980,260H999"/><path class="blu" d="M968,291Q968,279 980,279H999"/><path class="blu" d="M968,312Q968,299.6 980,299.6H999"/><path class="blu" d="M968,359Q968,347 980,347H999"/><path class="blu" d="M968,380Q968,367.6 980,367.6H999"/><path class="blu" d="M968,399Q968,386.6 980,386.6H999"/><path class="blu" d="M968,419Q968,407 980,407H999"/><path class="blu" d="M968,467Q968,454.5 980,454.5H999"/><path class="blu" d="M968,486Q968,474 980,474H999"/><path class="blu" d="M968,506Q968,494 980,494H999"/><path class="blu" d="M968,554Q968,542 980,542H999"/><path class="blu" d="M968,573Q968,561 980,561H999"/>
<path class="red" d="M758,968V668Q758,652.3 742,652.3H736"/>
<path class="red" d="M790,968V730Q790,715 778,715Q768,715 768,700V664Q768,652 780,652H795"/><path class="red" d="M768,682Q768,670 780,670H795"/>
<path class="rt" d="M818,968V745"/>
<path class="red" d="M818,746Q818,732.7 832,732.7H849"/><path class="red" d="M818,779Q818,765.3 832,765.3H849"/><path class="red" d="M818,808Q818,794.7 832,794.7H849"/><path class="red" d="M818,841Q818,827.3 832,827.3H849"/><path class="red" d="M818,873Q818,859.3 832,859.3H849"/><path class="red" d="M818,904Q818,890 832,890H849"/>
<path class="red" d="M831,968V965Q831,952.3 845,952.3H890"/>
<path class="blk" d="M932,983V992Q932,1005.7 918,1005.7H838"/>
<path class="blk" d="M1153,999V966Q1153,952 1139,952H1016"/>
<path class="blk" d="M1072,1022.3H838"/>
<path class="red" d="M838,1038H1072"/>
<path class="red" d="M698,1007H255Q235,1007 235,990V985Q235,970 220,970H166"/>
<path class="red" d="M698,1015H166"/>
<path class="red" d="M698,1022.5H490Q474,1022.5 474,1035Q474,1047 460,1047H432"/>
<path class="blk" d="M40.7,1005.7H22Q9.5,1005.7 9.5,993V685Q9.5,672.3 22,672.3H49"/>
<path class="blk" d="M295,1039H243Q231,1039 231,1049V1050Q231,1060 220,1060H166"/>
<path class="blk" d="M496,1061H248Q235,1061 235,1075V1092Q235,1107 220,1107H166"/>
<path class="rt" d="M698,1079H668"/>
<path class="red" d="M668,1079Q661,1079 661,1070Q661,1060.6 652,1060.6H637"/><path class="red" d="M668,1079H637"/><path class="red" d="M668,1079Q661,1079 661,1087Q661,1095.6 652,1095.6H637"/>
<path class="blk" d="M512,1104V1125Q512,1141 528,1141H542"/>
<path class="blk" d="M496,1079H487Q477,1079 477,1090V1125Q477,1136 487,1136Q495,1136 495,1147V1207A4,4 0 0 1 495,1215V1254Q495,1266 507,1266Q518,1266 518,1278A4,4 0 0 1 518,1286V1487Q518,1499 530,1499H573"/>
<path class="blk" d="M518,1211.5H476Q458,1211.5 458,1228V1248Q458,1264 442,1264H424"/>
<path class="blk" d="M518,1229H510Q503,1229 503,1237V1245Q503,1254 512,1254H516Q528,1254 528,1266V1278A4,4 0 0 1 528,1286V1447Q528,1459 540,1459H573"/>
<path class="blk" d="M555,1282H435"/>
<path class="blk" d="M555,1300H549Q539,1300 539,1310V1435Q539,1447 551,1447H573"/>
<path class="rt" d="M698,1154H300Q287,1154 287,1170V1325Q287,1340 272,1340Q258,1340 258,1352V1494"/>
<path class="red" d="M698,1154H475Q459,1154 459,1170V1190Q459,1202 447,1202H436"/>
<path class="rt" d="M272,1340Q258,1340 258,1325V1295Q258,1281 244,1281H150Q136,1281 136,1295V1494"/>
<path class="rt" d="M150,1281Q136,1281 136,1267V1200"/>
<path class="rt" d="M287,1325Q287,1338 300,1338H365Q380,1338 380,1352V1494"/>
<path class="rt" d="M380,1355Q380,1367 392,1367H485Q500,1367 500,1380V1494"/>
<path class="red" d="M136,1200Q136,1186 122,1186H108"/><path class="red" d="M136,1228Q136,1214.3 122,1214.3H108"/><path class="red" d="M136,1258Q136,1244 122,1244H108"/><path class="red" d="M136,1287Q136,1273 122,1273H108"/>
<path class="red" d="M136,1290Q136,1301.7 124,1301.7H108"/><path class="red" d="M136,1319Q136,1330.7 124,1330.7H108"/><path class="red" d="M136,1348Q136,1360 124,1360H108"/><path class="red" d="M136,1377Q136,1389 124,1389H108"/><path class="red" d="M136,1406Q136,1418.3 124,1418.3H108"/><path class="red" d="M136,1435Q136,1447.3 124,1447.3H108"/><path class="red" d="M136,1464Q136,1476.7 124,1476.7H108"/><path class="red" d="M136,1494Q136,1506 124,1506H108"/>
<path class="red" d="M258,1314Q258,1301 245,1301H232"/><path class="red" d="M258,1342Q258,1329.3 245,1329.3H232"/>
<path class="red" d="M258,1349Q258,1359 248,1359H232"/><path class="red" d="M258,1378Q258,1388 248,1388H232"/><path class="red" d="M258,1406Q258,1416.7 248,1416.7H232"/><path class="red" d="M258,1435Q258,1445.7 248,1445.7H232"/><path class="red" d="M258,1465Q258,1475 248,1475H232"/><path class="red" d="M258,1494Q258,1504 248,1504H232"/>
<path class="red" d="M380,1350Q380,1359 370,1359H354"/><path class="red" d="M380,1378Q380,1388 370,1388H354"/><path class="red" d="M380,1406Q380,1416.7 370,1416.7H354"/><path class="red" d="M380,1435Q380,1445.7 370,1445.7H354"/><path class="red" d="M380,1465Q380,1475 370,1475H354"/><path class="red" d="M380,1494Q380,1504 370,1504H354"/>
<path class="red" d="M500,1378Q500,1387.7 490,1387.7H479"/><path class="red" d="M500,1406Q500,1416.7 490,1416.7H479"/><path class="red" d="M500,1435Q500,1445.7 490,1445.7H479"/><path class="red" d="M500,1465Q500,1475 490,1475H479"/><path class="red" d="M500,1494Q500,1504 490,1504H479"/>
<path class="red" d="M698,1201H688Q676,1201 676,1206Q676,1211.5 666,1211.5H649"/>
<path class="red" d="M698,1201H692Q680,1201 680,1215Q680,1229 670,1229H649"/>
<path class="red" d="M725,1216V1268Q725,1282 710,1282H688"/><path class="red" d="M725,1216V1288Q725,1300 712,1300H688"/>
<path class="red" d="M765,1216V1398Q765,1411 752,1411H727"/>
<path class="red" d="M782.7,1216V1270Q782.7,1282 795,1282H814"/><path class="red" d="M782.7,1216V1288Q782.7,1300 795,1300H814"/>
<path class="red" d="M838,1191.7H860Q874,1191.7 874,1205V1218Q874,1231 885,1231H889"/>
<path class="red" d="M838,1205H850Q862,1205 862,1217V1222Q862,1232 850,1232H826Q815,1232 815,1217"/>
<path class="red" d="M838,1178.3H900"/>
<path class="blk" d="M838,1148.3H900"/>
<path class="blk" d="M850,1148.3H858Q870,1148.3 870,1135V1130Q870,1117.3 882,1117.3H900"/>
<path class="blk" d="M1127,1046V1095Q1127,1111 1112,1111H1050Q1035,1111 1035,1126V1148Q1035,1163.3 1020,1163.3H995"/>
<path class="blk" style="stroke-dasharray:4 4" d="M1127,1075Q1127,1088 1112,1088H1030Q1020,1088 1020,1098Q1020,1109.3 1010,1109.3H995"/>
<path class="blk" d="M994,1178H1071"/>
<path class="blk" d="M1015,1221H1030Q1046,1221 1046,1237V1255Q1046,1270 1060,1270H1072"/>
<path class="blk" d="M935,670H1030Q1045,670 1045,685V703Q1045,718.3 1060,718.3H1072"/>
<path class="d1" d="M768.5,1100V1112"/><path class="d2" d="M768.5,1106V1120"/><path class="d2" d="M768.5,1106V1092"/>
<path class="kt" d="M940,1281.7H983Q998.3,1281.7 998.3,1296V1430"/>
<path class="blk" d="M998.3,1342Q998.3,1356 1012,1356H1038"/><path class="blk" d="M998.3,1364Q998.3,1378.3 1012,1378.3H1038"/><path class="blk" d="M998.3,1387Q998.3,1400.7 1012,1400.7H1038"/><path class="blk" d="M998.3,1408Q998.3,1421.7 1012,1421.7H1038"/><path class="blk" d="M998.3,1429Q998.3,1443.3 1012,1443.3H1038"/>
<path class="kt" d="M940,1299.3H957Q971,1299.3 971,1314V1428"/>
<path class="blk" d="M971,1364Q971,1376 958,1376H938"/><path class="blk" d="M971,1387Q971,1399 958,1399H938"/><path class="blk" d="M971,1408Q971,1420.7 958,1420.7H938"/><path class="blk" d="M971,1428Q971,1442.3 958,1442.3H938"/>
<path class="red" d="M923.3,1495H1121.7"/>
<path class="blu" d="M923.3,1513.7H1121.7"/>
<path class="blk" d="M923.3,1532.3H1121.7"/>
<path class="d1" d="M924,1552.7H1114"/><path class="d2" d="M924,1552.7H1121"/>
</g>
<g id="edge-labels">
<text class="p" x="866" y="1000.7">TS</text>
<text class="p" x="843.3" y="1162.7">Alerts</text>
<text class="p" x="1002.3" y="1191">SMTP</text>
</g>
</svg>
